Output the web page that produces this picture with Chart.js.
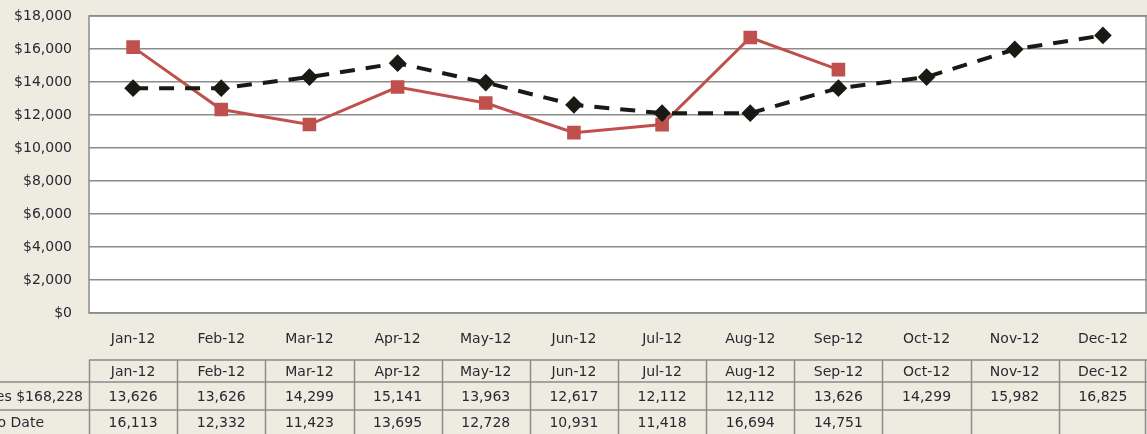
<!DOCTYPE html>
<html>
<head>
<meta charset="utf-8">
<script src="https://cdn.jsdelivr.net/npm/chart.js@4.4.0/dist/chart.umd.min.js"></script>
<style>
    html, body { margin: 0; padding: 0; background: #eeebe0; overflow: hidden; }
    canvas { display: block; }
</style>
</head>
<body>
<canvas id="salesChart" width="1147" height="434"></canvas>
<script>
// --- data ---
const months = ['Jan-12', 'Feb-12', 'Mar-12', 'Apr-12', 'May-12', 'Jun-12',
    'Jul-12', 'Aug-12', 'Sep-12', 'Oct-12', 'Nov-12', 'Dec-12'];
const budgetValues = [13626, 13626, 14299, 15141, 13963, 12617, 12112, 12112, 13626, 14299, 15982, 16825];
const actualValues = [16113, 12332, 11423, 13695, 12728, 10931, 11418, 16694, 14751, null, null, null];
const budgetLabel = 'Budgeted Sales $168,228';
const actualLabel = 'Actual Year To Date';
const yTicks = [0, 2000, 4000, 6000, 8000, 10000, 12000, 14000, 16000, 18000];

const fontFamily = '"DejaVu Sans", Verdana, sans-serif';
const textColor = '#2b2733';
const lineGrey = '#8c8c8c';

const fmtMoney = (v) => '$' + v.toLocaleString('en-US');
const fmtNum = (v) => (v === null ? '' : v.toLocaleString('en-US'));

// white plot background
const plotBackground = {
    id: 'plotBackground',
    beforeDraw(chart) {
        const a = chart.chartArea;
        chart.ctx.save();
        chart.ctx.fillStyle = '#ffffff';
        chart.ctx.fillRect(a.left, a.top, a.right - a.left, a.bottom - a.top);
        chart.ctx.restore();
    }
};

// plot border + data table drawn from the x scale
const tablePlugin = {
    id: 'dataTable',
    afterDraw(chart) {
        const ctx = chart.ctx;
        const area = chart.chartArea;
        const x = chart.scales.x;
        const colW = x.getPixelForValue(1) - x.getPixelForValue(0);
        const tableTop = 360, row1 = 382, row2 = 410, tableBottom = 438;

        ctx.save();
        ctx.strokeStyle = lineGrey;
        ctx.lineWidth = 1.5;
        ctx.strokeRect(area.left, area.top, area.right - area.left - 1, area.bottom - area.top);

        ctx.beginPath();
        ctx.moveTo(area.left, tableTop); ctx.lineTo(chart.width, tableTop);
        ctx.moveTo(0, row1); ctx.lineTo(chart.width, row1);
        ctx.moveTo(0, row2); ctx.lineTo(chart.width, row2);
        for (let i = 0; i <= months.length; i++) {
            const cx = Math.min(Math.round(x.getPixelForValue(i) - colW / 2) + 0.5, chart.width - 1.5);
            ctx.moveTo(cx, tableTop); ctx.lineTo(cx, tableBottom);
        }
        ctx.stroke();

        ctx.fillStyle = textColor;
        ctx.font = '14px ' + fontFamily;
        ctx.textBaseline = 'middle';
        ctx.textAlign = 'center';
        months.forEach((m, i) => {
            const cx = x.getPixelForValue(i);
            ctx.fillText(m, cx, (tableTop + row1) / 2 + 1);
            ctx.fillText(fmtNum(budgetValues[i]), cx, (row1 + row2) / 2 + 1);
            ctx.fillText(fmtNum(actualValues[i]), cx, (row2 + tableBottom) / 2 - 1);
        });
        ctx.textAlign = 'right';
        ctx.fillText(budgetLabel, area.left - 6, (row1 + row2) / 2 + 1);
        ctx.fillText(actualLabel, area.left - 45, (row2 + tableBottom) / 2 - 1);
        ctx.restore();
    }
};

const ctx = document.getElementById('salesChart');
new Chart(ctx, {
    type: 'line',
    data: {
        labels: months,
        datasets: [{
            label: budgetLabel,
            data: budgetValues,
            borderColor: '#1a1a14',
            backgroundColor: '#1a1a14',
            borderWidth: 4,
            borderDash: [15, 11],
            pointStyle: 'rectRot',
            pointRadius: 6,
            pointHoverRadius: 6,
            tension: 0
        }, {
            label: actualLabel,
            data: actualValues,
            borderColor: '#c0504d',
            backgroundColor: '#c0504d',
            borderWidth: 3,
            pointStyle: 'rect',
            pointRadius: 7.5,
            pointHoverRadius: 7.5,
            tension: 0,
            spanGaps: false
        }]
    },
    options: {
        responsive: false,
        animation: false,
        layout: { autoPadding: false, padding: { top: 16, right: 0, bottom: 74, left: 0 } },
        plugins: {
            legend: { display: false },
            tooltip: { enabled: false }
        },
        scales: {
            x: {
                offset: true,
                grid: { display: false },
                border: { display: false },
                ticks: {
                    color: textColor,
                    font: { family: fontFamily, size: 14 },
                    padding: 10,
                    maxRotation: 0
                },
                afterFit: (scale) => {
                    scale.height = 47;
                    scale.paddingLeft = 0;
                    scale.paddingRight = 0;
                }
            },
            y: {
                min: 0,
                max: 18000,
                afterBuildTicks: (scale) => { scale.ticks = yTicks.map(v => ({ value: v })); },
                grid: { color: lineGrey, lineWidth: 1.5, drawTicks: false },
                border: { display: false },
                ticks: {
                    color: textColor,
                    font: { family: fontFamily, size: 14 },
                    padding: 17,
                    callback: (v) => fmtMoney(v)
                },
                afterFit: (scale) => {
                    scale.width = 89;
                    scale.paddingTop = 0;
                    scale.paddingBottom = 0;
                }
            }
        }
    },
    plugins: [plotBackground, tablePlugin]
});
</script>
</body>
</html>
